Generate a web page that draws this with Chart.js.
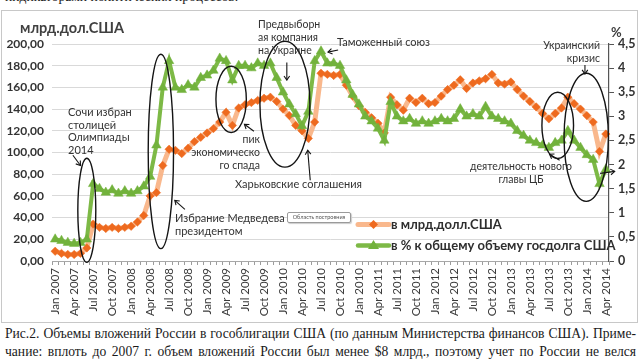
<!DOCTYPE html>
<html><head><meta charset="utf-8">
<script src="https://cdn.jsdelivr.net/npm/chart.js@4.4.1/dist/chart.umd.min.js"></script>
<style>
html,body{margin:0;padding:0;background:#fff;width:640px;height:360px;overflow:hidden;position:relative;}
#frame{position:absolute;left:1px;top:10px;width:635px;height:311px;border:1px solid #c8c8c8;}
#wrap{position:absolute;left:0;top:0;width:640px;height:322px;}
.t{position:absolute;font-family:Lato,"Open Sans",sans-serif;color:#333;font-size:11px;line-height:13px;white-space:nowrap;}
.b{font-weight:bold;}
.cap{position:absolute;left:5px;width:631px;font-family:"Liberation Serif","Times New Roman",serif;font-size:13.6px;line-height:17px;color:#1a1a1a;text-align:justify;text-align-last:justify;white-space:nowrap;}
#box{position:absolute;left:287px;top:212px;width:62px;height:9px;border:1px solid #9a9a9a;border-radius:2px;font-family:Lato,sans-serif;font-size:5.5px;line-height:9px;color:#555;text-align:center;background:#fff;box-shadow:1px 1px 1px #ccc;}
</style></head>
<body>
<div class="cap" style="top:-12px;text-align-last:left;">индикаторами политических процессов.</div>
<div id="frame"></div>
<div id="wrap"><canvas id="c"></canvas></div>

<div class="t b" style="left:20px;top:19px;font-size:14.5px;line-height:18px;color:#404040;">млрд.дол.США</div>
<div class="t b" style="left:611px;top:26px;font-size:13px;color:#404040;">%</div>

<div class="t" style="left:68px;top:106px;line-height:12.7px;">Сочи избран<br>столицей<br>Олимпиады<br>2014</div>
<div class="t" style="left:175px;top:211px;">Избрание Медведева<br>президентом</div>
<div class="t" style="left:258px;top:18px;font-size:10.5px;">Предвыборн<br>ая компания<br>на Украине</div>
<div class="t" style="right:380px;top:133px;text-align:right;font-size:10.5px;">пик<br>экономическо<br>го спада</div>
<div class="t" style="left:235px;top:177px;">Харьковские соглашения</div>
<div class="t" style="left:337px;top:35px;">Таможенный союз</div>
<div class="t" style="right:40px;top:39px;text-align:right;font-size:10.5px;">Украинский<br>кризис</div>
<div class="t" style="left:460px;top:160px;width:122px;text-align:center;font-size:10.5px;">деятельность нового<br>главы ЦБ</div>
<div id="box">Область построения</div>

<div class="t b" style="left:391px;top:217px;font-size:13px;line-height:15px;color:#2e2e2e;">в млрд.долл.США</div>
<div class="t b" style="left:391px;top:238px;font-size:13px;line-height:15px;color:#2e2e2e;">в % к общему объему госдолга США</div>

<div class="cap" style="top:325px;">Рис.2. Объемы вложений России в гособлигации США (по данным Министерства финансов США). Приме-</div>
<div class="cap" style="top:343px;">чание: вплоть до 2007 г. объем вложений России был менее $8 млрд., поэтому учет по России не велся</div>

<script>
// ---- data ----
const months = ["Jan","Feb","Mar","Apr","May","Jun","Jul","Aug","Sep","Oct","Nov","Dec"];
const years = [2007,2008,2009,2010,2011,2012,2013,2014];
const categories = [];
years.forEach(y => months.forEach(m => { if (categories.length < 88) categories.push(m + " " + y); }));

// tick labels shown every 3 months (as printed in the source, incl. its "Jan 2010" for Jan 2011)
const tickLabels = ["Jan 2007","Apr 2007","Jul 2007","Oct 2007","Jan 2008","Apr 2008","Jul 2008","Oct 2008",
  "Jan 2009","Apr 2009","Jul 2009","Oct 2009","Jan 2010","Apr 2010","Jul 2010","Oct 2010",
  "Jan 2010","Apr 2011","Jul 2011","Oct 2011","Jan 2012","Apr 2012","Jul 2012","Oct 2012",
  "Jan 2013","Apr 2013","Jul 2013","Oct 2013","Jan 2014","Apr 2014"];

// holdings, bn USD (left axis)
const holdingsBn = [
  9, 7, 6, 6, 7, 12, 34, 31, 30, 31, 30, 31,
  32, 36, 42, 60, 63, 88, 103, 102, 99, 104, 110, 114,
  118, 122, 128, 137, 125, 141, 144, 146, 148, 150, 151, 147,
  140, 134, 125, 120, 113, 128, 173, 172, 171, 172, 162, 152,
  143, 137, 132, 127, 118, 151, 144, 139, 150, 146, 150, 145,
  146, 152, 158, 162, 167, 159, 164, 166, 168, 172, 164, 163,
  165, 158, 152, 147, 142, 136, 131, 136, 141, 151, 145, 140,
  134, 128, 101, 117
];
// share of total US public debt, % (right axis)
const sharePct = [
  0.45, 0.42, 0.38, 0.36, 0.38, 0.45, 1.6, 1.5, 1.42, 1.47, 1.4, 1.45,
  1.4, 1.45, 1.55, 1.75, 2.4, 3.6, 4.15, 3.6, 3.55, 3.65, 3.6, 3.8,
  3.85, 3.95, 4.2, 4.15, 3.75, 4.05, 4.05, 4.0, 4.1, 4.05, 4.1, 3.8,
  3.5, 3.25, 3.05, 2.8, 3.1, 4.15, 4.35, 4.1, 4.1, 4.05, 3.75, 3.45,
  3.25, 3.0, 2.9, 2.75, 2.5, 3.3, 3.0, 2.9, 2.95, 2.85, 2.9, 2.85,
  2.9, 2.95, 2.9, 2.95, 3.15, 3.0, 3.05, 3.0, 3.2, 3.0, 2.95, 2.9,
  2.85, 2.7, 2.6, 2.5, 2.45, 2.4, 2.35, 2.45, 2.5, 2.7, 2.5, 2.35,
  2.2, 2.1, 1.6, 1.9
];

// annotation shapes in data coordinates (category index, left-axis value)
const ellipses = [
  {i:5.0, v:46.7, di:1.42, dv:48},
  {i:16.7, v:101, di:2.0, dv:89.6},
  {i:27.8, v:149, di:2.4, dv:30.5},
  {i:36.3, v:144.5, di:3.95, dv:58},
  {i:79.4, v:125, di:2.5, dv:30.5},
  {i:83.9, v:114, di:3.5, dv:59}
];
const arrows = [
  [[2.8,97.5],[4.0,88]],
  [[20.5,47.6],[18.9,55.9]],
  [[31.4,119.6],[29.9,126]],
  [[40.3,74.4],[39.9,102]],
  [[36.6,183],[36.6,166.7]],
  [[44.7,194.4],[43.1,192.5]],
  [[79.7,92.8],[78.1,98.4]],
  [[83.7,180.6],[83.7,172.3]],
  [[86.1,80.8],[88.4,82.6]]
];

const ORANGE_LINE = 'rgba(249,180,135,0.95)';
const ORANGE_PT = '#EE6A1F';
const GREEN_LINE = '#7DB946';
const GREEN_PT = '#72B23C';

const annot = {
  id: 'annot',
  afterDatasetsDraw(chart) {
    const {ctx, scales} = chart;
    const x = scales.x, y = scales.y;
    const px = i => x.getPixelForValue(i);
    const py = v => y.getPixelForValue(v);
    ctx.save();
    ctx.strokeStyle = '#141414';
    ctx.lineWidth = 1.4;
    ellipses.forEach(e => {
      const cx = px(e.i), cy = py(e.v);
      const rx = Math.abs(px(e.i + e.di) - cx), ry = Math.abs(py(e.v + e.dv) - cy);
      ctx.beginPath(); ctx.ellipse(cx, cy, rx, ry, 0, 0, Math.PI * 2); ctx.stroke();
    });
    ctx.lineWidth = 1.1;
    arrows.forEach(a => {
      const x1 = px(a[0][0]), y1 = py(a[0][1]), x2 = px(a[1][0]), y2 = py(a[1][1]);
      ctx.beginPath(); ctx.moveTo(x1, y1); ctx.lineTo(x2, y2); ctx.stroke();
      const ang = Math.atan2(y2 - y1, x2 - x1), h = 5;
      ctx.beginPath();
      ctx.moveTo(x2 - h * Math.cos(ang - 0.6), y2 - h * Math.sin(ang - 0.6));
      ctx.lineTo(x2, y2);
      ctx.lineTo(x2 - h * Math.cos(ang + 0.6), y2 - h * Math.sin(ang + 0.6));
      ctx.stroke();
    });
    // legend samples
    const lx0 = 358, lx1 = 389;
    ctx.lineWidth = 5; ctx.strokeStyle = ORANGE_LINE; ctx.lineCap = 'round';
    ctx.beginPath(); ctx.moveTo(lx0, 224.5); ctx.lineTo(lx1, 224.5); ctx.stroke();
    ctx.fillStyle = ORANGE_PT;
    ctx.beginPath(); ctx.moveTo(373.5, 220); ctx.lineTo(378, 224.5); ctx.lineTo(373.5, 229); ctx.lineTo(369, 224.5); ctx.closePath(); ctx.fill();
    ctx.lineWidth = 4.5; ctx.strokeStyle = GREEN_LINE;
    ctx.beginPath(); ctx.moveTo(lx0, 245.5); ctx.lineTo(lx1, 245.5); ctx.stroke();
    ctx.fillStyle = GREEN_PT;
    ctx.beginPath(); ctx.moveTo(373.5, 240); ctx.lineTo(379, 249); ctx.lineTo(368, 249); ctx.closePath(); ctx.fill();
    ctx.restore();
  }
};

new Chart(document.getElementById('c'), {
  type: 'line',
  data: {
    labels: categories,
    datasets: [
      {
        label: 'в млрд.долл.США', data: holdingsBn, yAxisID: 'y', order: 2,
        borderColor: ORANGE_LINE, borderWidth: 5, tension: 0,
        pointStyle: 'rectRot', pointRadius: 4.2, pointBackgroundColor: ORANGE_PT,
        pointBorderColor: ORANGE_PT, pointBorderWidth: 0.5
      },
      {
        label: 'в % к общему объему госдолга США', data: sharePct, yAxisID: 'y1', order: 1,
        borderColor: GREEN_LINE, borderWidth: 4, tension: 0,
        pointStyle: 'triangle', pointRadius: 5.5, pointBackgroundColor: GREEN_PT,
        pointBorderColor: GREEN_PT, pointBorderWidth: 0.5
      }
    ]
  },
  options: {
    responsive: true, maintainAspectRatio: false, animation: false,
    layout: {padding: {top: 44, left: 0, right: 0, bottom: 0}},
    plugins: {legend: {display: false}, tooltip: {enabled: false}},
    scales: {
      x: {
        offset: true,
        grid: {display: true, drawOnChartArea: false, drawTicks: true, tickLength: 4, color: '#9c9c9c', offset: true},
        border: {display: true, color: '#a8a8a8'},
        ticks: {
          autoSkip: false, minRotation: 90, maxRotation: 90, padding: 3,
          color: '#3a3a3a', font: {family: 'Lato', size: 11.5},
          callback: (val, idx) => idx % 3 === 0 ? tickLabels[idx / 3] : ''
        },
        afterFit: s => { s.height = 61; }
      },
      y: {
        position: 'left', min: 0, max: 200,
        grid: {color: '#d9d9d9', drawTicks: false},
        border: {display: false},
        ticks: {stepSize: 20, padding: 8, color: '#333', font: {family: 'Lato', size: 12, weight: 'bold'},
          callback: v => v.toFixed(2).replace('.', ',')},
        afterFit: s => { s.width = 52; }
      },
      y1: {
        position: 'right', min: 0, max: 4.5,
        grid: {drawOnChartArea: false, drawTicks: true, tickLength: 5, color: '#555'},
        border: {display: true, color: '#555', width: 1.2},
        ticks: {stepSize: 0.5, padding: 4, color: '#333', font: {family: 'Lato', size: 12.5, weight: 'bold'},
          callback: v => String(Math.round(v * 10) / 10).replace('.', ',')},
        afterFit: s => { s.width = 31; }
      }
    }
  },
  plugins: [annot]
});
</script>
</body></html>
